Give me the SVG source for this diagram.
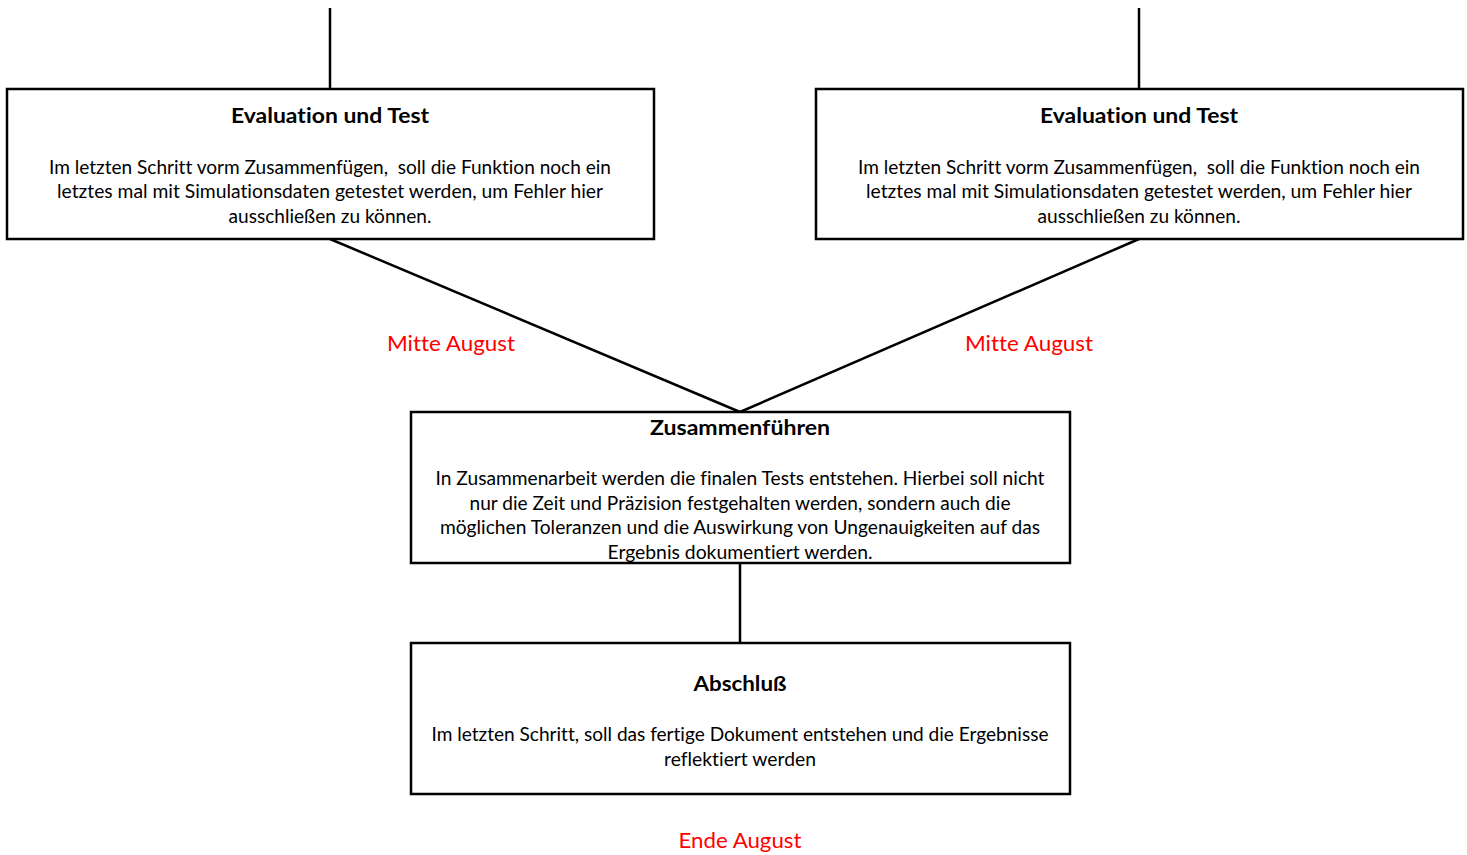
<svg xmlns="http://www.w3.org/2000/svg" width="1467" height="855" viewBox="0 0 1467 855">
<style>
.box{fill:#fff;stroke:#000;stroke-width:2.5}
.con{stroke:#000;stroke-width:2.5;fill:none}
text{font-variant-ligatures:none;white-space:pre}
.t{font-family:Lato,"Open Sans","Liberation Sans",sans-serif;font-weight:bold;font-size:21px;text-anchor:middle;fill:#000}
.b{font-family:Lato,"Open Sans","Liberation Sans",sans-serif;font-size:18.5px;text-anchor:middle;fill:#000}
.r{font-family:Lato,"Open Sans","Liberation Sans",sans-serif;font-size:22px;text-anchor:middle;fill:#ff0000}
</style>
<rect width="1467" height="855" fill="#fff"/>
<g id="connectors">
<line class="con" x1="330" y1="8" x2="330" y2="89"/>
<line class="con" x1="1139" y1="8" x2="1139" y2="89"/>
<line class="con" x1="330" y1="239" x2="740" y2="412"/>
<line class="con" x1="1139" y1="239" x2="740" y2="412"/>
<line class="con" x1="740" y1="563" x2="740" y2="643"/>
</g>
<g id="eval1">
<rect class="box" x="7" y="89" width="647" height="150"/>
<text class="t" x="330" y="123" textLength="198" lengthAdjust="spacingAndGlyphs">Evaluation und Test</text>
<text class="b" x="330" y="174" textLength="562" lengthAdjust="spacingAndGlyphs" xml:space="preserve">Im letzten Schritt vorm Zusammenfügen,  soll die Funktion noch ein</text>
<text class="b" x="330" y="198" textLength="546" lengthAdjust="spacingAndGlyphs">letztes mal mit Simulationsdaten getestet werden, um Fehler hier</text>
<text class="b" x="330" y="223" textLength="203" lengthAdjust="spacingAndGlyphs">ausschließen zu können.</text>
</g>
<g id="eval2">
<rect class="box" x="816" y="89" width="647" height="150"/>
<text class="t" x="1139" y="123" textLength="198" lengthAdjust="spacingAndGlyphs">Evaluation und Test</text>
<text class="b" x="1139" y="174" textLength="562" lengthAdjust="spacingAndGlyphs" xml:space="preserve">Im letzten Schritt vorm Zusammenfügen,  soll die Funktion noch ein</text>
<text class="b" x="1139" y="198" textLength="546" lengthAdjust="spacingAndGlyphs">letztes mal mit Simulationsdaten getestet werden, um Fehler hier</text>
<text class="b" x="1139" y="223" textLength="203" lengthAdjust="spacingAndGlyphs">ausschließen zu können.</text>
</g>
<g id="label-left">
<text class="r" x="451" y="351" textLength="128" lengthAdjust="spacingAndGlyphs">Mitte August</text>
</g>
<g id="label-right">
<text class="r" x="1029" y="351" textLength="128" lengthAdjust="spacingAndGlyphs">Mitte August</text>
</g>
<g id="merge">
<rect class="box" x="411" y="412" width="659" height="151"/>
<text class="t" x="740" y="435" textLength="180" lengthAdjust="spacingAndGlyphs">Zusammenführen</text>
<text class="b" x="740" y="485" textLength="609" lengthAdjust="spacingAndGlyphs">In Zusammenarbeit werden die finalen Tests entstehen. Hierbei soll nicht</text>
<text class="b" x="740" y="510" textLength="541" lengthAdjust="spacingAndGlyphs">nur die Zeit und Präzision festgehalten werden, sondern auch die</text>
<text class="b" x="740" y="534" textLength="600" lengthAdjust="spacingAndGlyphs">möglichen Toleranzen und die Auswirkung von Ungenauigkeiten auf das</text>
<text class="b" x="740" y="559" textLength="265" lengthAdjust="spacingAndGlyphs">Ergebnis dokumentiert werden.</text>
</g>
<g id="final">
<rect class="box" x="411" y="643" width="659" height="151"/>
<text class="t" x="740" y="691" textLength="93" lengthAdjust="spacingAndGlyphs">Abschluß</text>
<text class="b" x="740" y="741" textLength="617" lengthAdjust="spacingAndGlyphs">Im letzten Schritt, soll das fertige Dokument entstehen und die Ergebnisse</text>
<text class="b" x="740" y="766" textLength="152" lengthAdjust="spacingAndGlyphs">reflektiert werden</text>
</g>
<g id="label-end">
<text class="r" x="740" y="848" textLength="123" lengthAdjust="spacingAndGlyphs">Ende August</text>
</g>
</svg>
